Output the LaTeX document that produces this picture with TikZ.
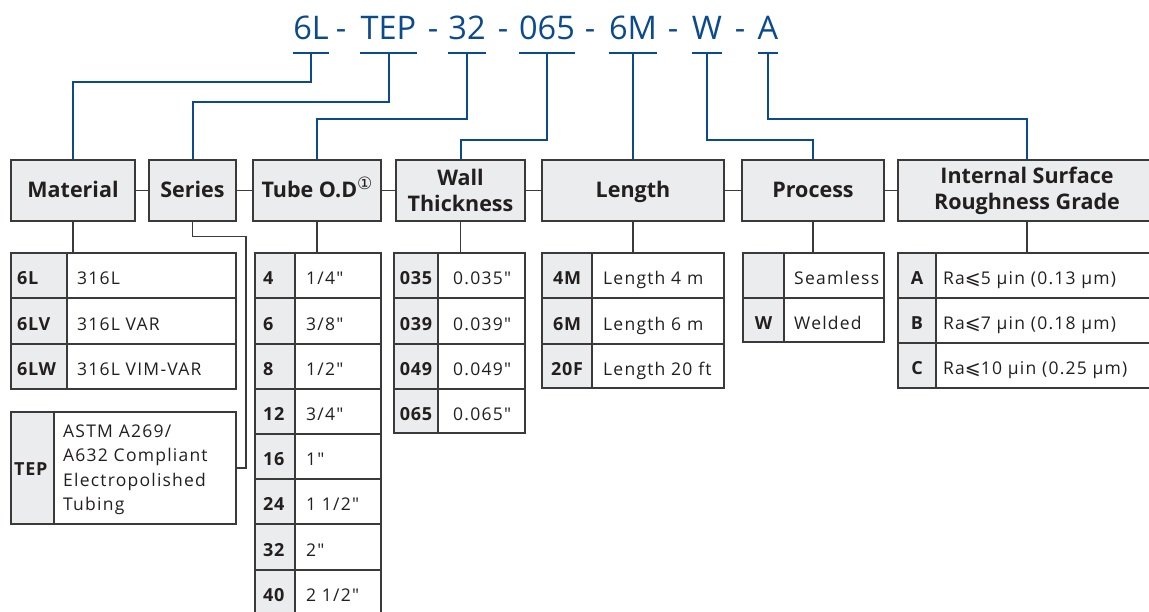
\documentclass[tikz,border=0pt]{standalone}
\usepackage{fontspec}
\newfontfamily\osans{Open Sans}
\newfontfamily\osanst{Open Sans}[LetterSpace=7]
\newfontfamily\osansb{Open Sans}[LetterSpace=4]
\newfontfamily\symf{DejaVu Sans}
\definecolor{bl}{HTML}{0B4A8C}
\definecolor{lc}{HTML}{3A3A3A}
\definecolor{bf}{HTML}{EBECEE}
\definecolor{tx}{HTML}{231F20}
\tikzset{
  bline/.style={draw=bl, line width=2pt},
  gline/.style={draw=lc, line width=1.2pt},
  hdr/.style={draw=lc, fill=bf, line width=1.2pt, inner sep=0pt, minimum height=61pt,
    font=\osans\bfseries\fontsize{21.5}{26}\selectfont, text=tx, align=center},
  hone/.style={text height=15pt, text depth=1.4pt},
  codecell/.style={draw=lc, fill=bf, line width=1.2pt, inner sep=0pt},
  valcell/.style={draw=lc, fill=white, line width=1.2pt, inner sep=0pt},
  codetxt/.style={inner sep=0pt, font=\osansb\bfseries\fontsize{18}{20}\selectfont, text=tx},
  valtxt/.style={inner sep=0pt, font=\osanst\fontsize{17.5}{24.5}\selectfont, text=tx},
  tok/.style={inner sep=0pt, anchor=base, font=\osans\fontsize{32.5}{32.5}\selectfont, text=bl},
}
\newcommand\tabsetup[6]{\def\XL{#1}\def\XM{#2}\def\XR{#3}\def\CX{#4}\def\VX{#5}\tikzset{ca/.style={anchor=#6}}}
\newcommand\trow[5]{%
  \node[codecell, minimum width={\XM-\XL}, minimum height={#3-#2}] (#1c) at ({(\XL+\XM)/2},{(#2+#3)/2}) {};
  \node[valcell, minimum width={\XR-\XM}, minimum height={#3-#2}] (#1v) at ({(\XM+\XR)/2},{(#2+#3)/2}) {};
  \node[codetxt, ca] (#1ct) at (\CX,{(#2+#3)/2+9}) {#4};
  \node[valtxt, anchor=base west] (#1vt) at (\VX,{(#2+#3)/2+9}) {#5};
}
\newcommand\slle{{\symf\fontsize{19}{20}\selectfont ⩽}}
\begin{document}
\begin{tikzpicture}[x=1pt, y=-1pt]
\useasboundingbox (0,0) rectangle (1149,611);
\clip (0,0) rectangle (1149,611);
\fill[white] (0,0) rectangle (1149,611);

% title tokens
\node[tok] (t1) at (311,39) {6L};
\node[tok] (d1) at (341,39) {-};
\node[tok] (t2) at (388.5,39) {TEP};
\node[tok] (d2) at (433,39) {-};
\node[tok] (t3) at (467,39) {32};
\node[tok] (d3) at (503,39) {-};
\node[tok] (t4) at (547,39) {065};
\node[tok] (d4) at (590,39) {-};
\node[tok] (t5) at (633,39) {6M};
\node[tok] (d5) at (673,39) {-};
\node[tok] (t6) at (707,39) {W};
\node[tok] (d6) at (740,39) {-};
\node[tok] (t7) at (768,39) {A};

% header boxes
\node[hdr, hone, minimum width=124pt] (mat) at (73,190.5) {Material};
\node[hdr, hone, minimum width=87pt] (ser) at (192.5,190.5) {Series};
\node[hdr, hone, minimum width=128pt] (tod) at (317,190.5) {Tube O.D\raisebox{8pt}{\fontsize{17}{17}\selectfont\symf\mdseries ①}};
\node[hdr, minimum width=129pt] (wal) at (460.5,190.5) {Wall\\Thickness};
\node[hdr, hone, minimum width=182pt] (len) at (633,190.5) {Length};
\node[hdr, hone, minimum width=142pt] (pro) at (813,190.5) {Process};
\node[hdr, minimum width=258pt] (isr) at (1027,190.5) {Internal Surface\\Roughness Grade};

\draw[gline] (mat.east) -- (ser.west);
\draw[gline] (ser.east) -- (tod.west);
\draw[gline] (tod.east) -- (wal.west);
\draw[gline] (wal.east) -- (len.west);
\draw[gline] (len.east) -- (pro.west);
\draw[gline] (pro.east) -- (isr.west);

% Material table
\tabsetup{11}{67}{236}{17}{77}{base west}
\trow{ma}{253}{298}{6L}{316L}
\trow{mb}{298}{344}{6LV}{316L VAR}
\trow{mc}{344}{389}{6LW}{316L VIM-VAR}
% TEP table
\node[codecell, minimum width=43pt, minimum height=112pt] (tpc) at (32.5,468) {};
\node[valcell, minimum width=182pt, minimum height=112pt] (tpv) at (145,468) {};
\node[codetxt, anchor=base west] (tpct) at (14,475) {TEP};
\node[valtxt, anchor=base west, align=left] (tpvt) at (63,510.5) {ASTM A269/\\A632 Compliant\\Electropolished\\Tubing};

% Tube OD table
\tabsetup{255}{295}{381}{263}{306}{base west}
\trow{ta}{253}{298}{4}{1/4"}
\trow{tb}{298}{344}{6}{3/8"}
\trow{tc}{344}{389}{8}{1/2"}
\trow{td}{389}{434}{12}{3/4"}
\trow{te}{434}{479}{16}{1"}
\trow{tf}{479}{524}{24}{1 1/2"}
\trow{tg}{524}{570}{32}{2"}
\trow{th}{570}{615}{40}{2 1/2"}

% Wall table
\tabsetup{394}{438}{525}{416}{453}{base}
\trow{wa}{253}{298}{035}{0.035"}
\trow{wb}{298}{344}{039}{0.039"}
\trow{wc}{344}{389}{049}{0.049"}
\trow{wd}{389}{433}{065}{0.065"}

% Length table
\tabsetup{542}{592}{724}{567}{603}{base}
\trow{la}{253}{298}{4M}{Length 4 m}
\trow{lb}{298}{344}{6M}{Length 6 m}
\trow{lc}{344}{388}{20F}{Length 20 ft}

% Process table
\tabsetup{743}{784}{884}{763.5}{794}{base}
\trow{pa}{253}{298}{}{Seamless}
\trow{pb}{298}{342}{W}{Welded}

% Roughness table
\tabsetup{898}{936}{1156}{917}{943}{base}
\trow{ra}{253}{298}{A}{Ra\slle5 µin (0.13 µm)}
\trow{rb}{298}{343}{B}{Ra\slle7 µin (0.18 µm)}
\trow{rc}{343}{388}{C}{Ra\slle10 µin (0.25 µm)}

% box-to-table connectors
\draw[gline] (mat.south) -- (mat.south |- mav.north);
\draw[gline] (tod.south) -- (tod.south |- tav.north);
\draw[gline] (wal.south) -- (wal.south |- wav.north);
\draw[gline] (len.south) -- (len.south |- lav.north);
\draw[gline] (pro.south) -- (pro.south |- pav.north);
\draw[gline] (isr.south) -- (isr.south |- rav.north);
\draw[gline] (ser.south) -- ++(0,15) -- ++(53.5,0) |- (tpv.east);

% blue brackets
\foreach \t in {t1,t2,t3,t4,t5,t6,t7}{
  \path (\t.base) ++(0,13.5) coordinate (b\t);
  \draw[bline] (b\t -| \t.west) -- (b\t -| \t.east);
}
\draw[bline] (bt1) -- ++(0,29.5) -| (mat.north);
\draw[bline] (bt2) -- ++(0,49.5) -| (ser.north);
\draw[bline] (bt3) -- ++(0,66.5) -| (tod.north);
\draw[bline] (bt4) -- ++(0,87.5) -| (wal.north);
\draw[bline] (bt5) -- (bt5 |- len.north);
\draw[bline] (bt6) -- ++(0,87.5) -| (pro.north);
\draw[bline] (bt7) -- ++(0,66.5) -| (isr.north);
\end{tikzpicture}
\end{document}
